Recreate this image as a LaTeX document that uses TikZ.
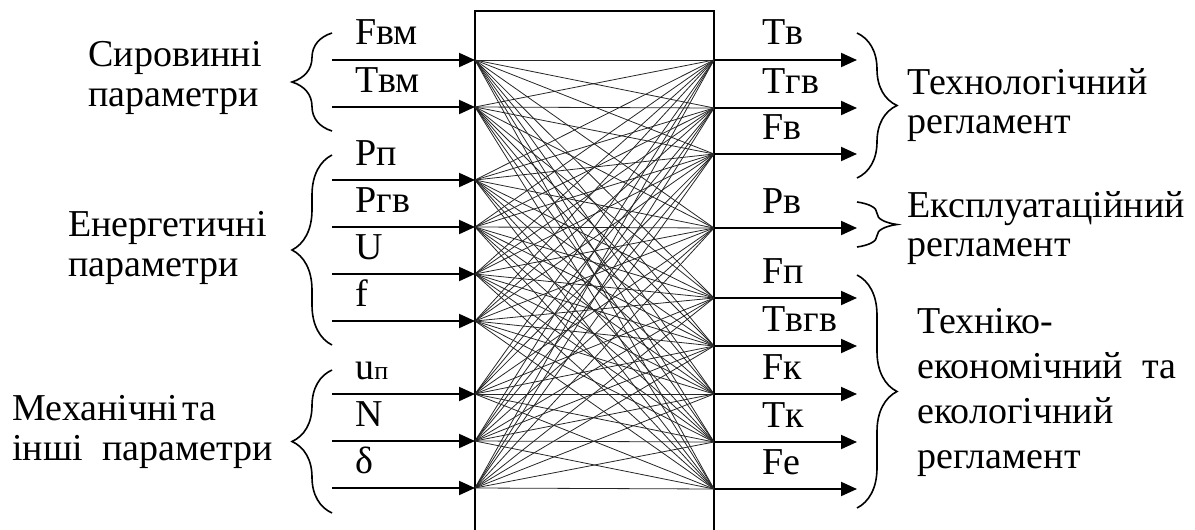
\documentclass[tikz,border=0pt]{standalone}
\usepackage{fontspec}
\setmainfont{Liberation Serif}
\usetikzlibrary{arrows.meta,decorations.pathreplacing,positioning}
\tikzstyle{sigarrow}=[-{Triangle[length=8pt,width=7pt]}, line width=1pt]
\tikzstyle{linkedge}=[line width=0.4pt, black!85]
\tikzstyle{boxline}=[line width=1pt]
\tikzstyle{siglabel}=[anchor=base west, inner sep=0pt, font=\fontsize{19}{19}\selectfont]
\tikzstyle{grouplabel}=[anchor=west, inner sep=0pt, align=left, font=\fontsize{19}{20}\selectfont]
\tikzstyle{groupbrace}=[decorate, decoration={brace, amplitude=20pt}, line width=0.8pt]
\begin{document}
\begin{tikzpicture}[x=0.5pt,y=-0.5pt]
        \useasboundingbox (0,0) rectangle (1195,530);
        \draw[boxline] (475,530) |- (714,11) -- (714,530);
        \foreach \y [count=\i] in {60,107,180,227,274,321,394,441,488} {
          \coordinate (p\i) at (332,\y);
          \coordinate (a\i) at (475,\y);
        }
        \foreach \y [count=\i] in {60,108,154,228,298,346,394,442,489} {
          \coordinate (b\i) at (714,\y);
          \coordinate (q\i) at (857,\y);
        }
        \foreach \i in {1,...,9}
          \foreach \j in {1,...,9}
            \draw[linkedge] (a\i) -- (b\j);
        \foreach \i in {1,...,9} {
          \draw[sigarrow] (p\i) -- (a\i);
          \draw[sigarrow] (b\i) -- (q\i);
        }
        \node[siglabel] (lFvm) at (355,45) {Fвм};
        \node[siglabel] (lTvm) at (355,92) {Tвм};
        \node[siglabel] (lPp) at (355,165) {Pп};
        \node[siglabel] (lPgv) at (355,212) {Pгв};
        \node[siglabel] (lU) at (355,259) {U};
        \node[siglabel] (lf) at (355,306) {f};
        \node[siglabel] (lup) at (355,379) {u{\fontsize{13}{13}\selectfont п}};
        \node[siglabel] (lN) at (355,426) {N};
        \node[siglabel] (ldelta) at (355,473) {δ};
        \node[siglabel] (lTv) at (762,45) {Tв};
        \node[siglabel] (lTgv) at (762,93) {Tгв};
        \node[siglabel] (lFv) at (762,139) {Fв};
        \node[siglabel] (lPv) at (762,213) {Pв};
        \node[siglabel] (lFp) at (762,283) {Fп};
        \node[siglabel] (lTvgv) at (762,331) {Tвгв};
        \node[siglabel] (lFk) at (762,379) {Fк};
        \node[siglabel] (lTk) at (762,427) {Tк};
        \node[siglabel] (lFe) at (762,474) {Fе};
        \coordinate (lb1t) at (332,33);
        \coordinate (lb1b) at (332,131);
        \coordinate (lb2t) at (332,155);
        \coordinate (lb2b) at (332,345);
        \coordinate (lb3t) at (332,370);
        \coordinate (lb3b) at (332,513);
        \coordinate (rb1t) at (857,33);
        \coordinate (rb1b) at (857,178);
        \coordinate (rb2t) at (857,202);
        \coordinate (rb2b) at (857,247);
        \coordinate (rb3t) at (857,275);
        \coordinate (rb3b) at (857,508);
        \draw[groupbrace] (lb1b) -- (lb1t);
        \draw[groupbrace] (lb2b) -- (lb2t);
        \draw[groupbrace] (lb3b) -- (lb3t);
        \draw[groupbrace] (rb1t) -- (rb1b);
        \draw[groupbrace] (rb2t) -- (rb2b);
        \draw[groupbrace] (rb3t) -- (rb3b);
        \node[grouplabel] (raw) at (88,78) {Сировинні\\параметри};
        \node[grouplabel] (energy) at (68,248) {Енергетичні\\параметри};
        \node[grouplabel] (mech) at (12,432) {Механічні\hspace{0.12em}та\\інші\ \ параметри};
        \node[grouplabel, font=\fontsize{19}{19.5}\selectfont] (tech) at (907,105) {Технологічний\\регламент};
        \node[grouplabel, font=\fontsize{19}{19.5}\selectfont] (oper) at (907,228) {Експлуатаційний\\регламент};
        \node[grouplabel, font=\fontsize{19}{22.5}\selectfont] (econ) at (917,392) {Техніко-\\економічний\ \ та\\екологічний\\регламент};
      \end{tikzpicture}
\end{document}
